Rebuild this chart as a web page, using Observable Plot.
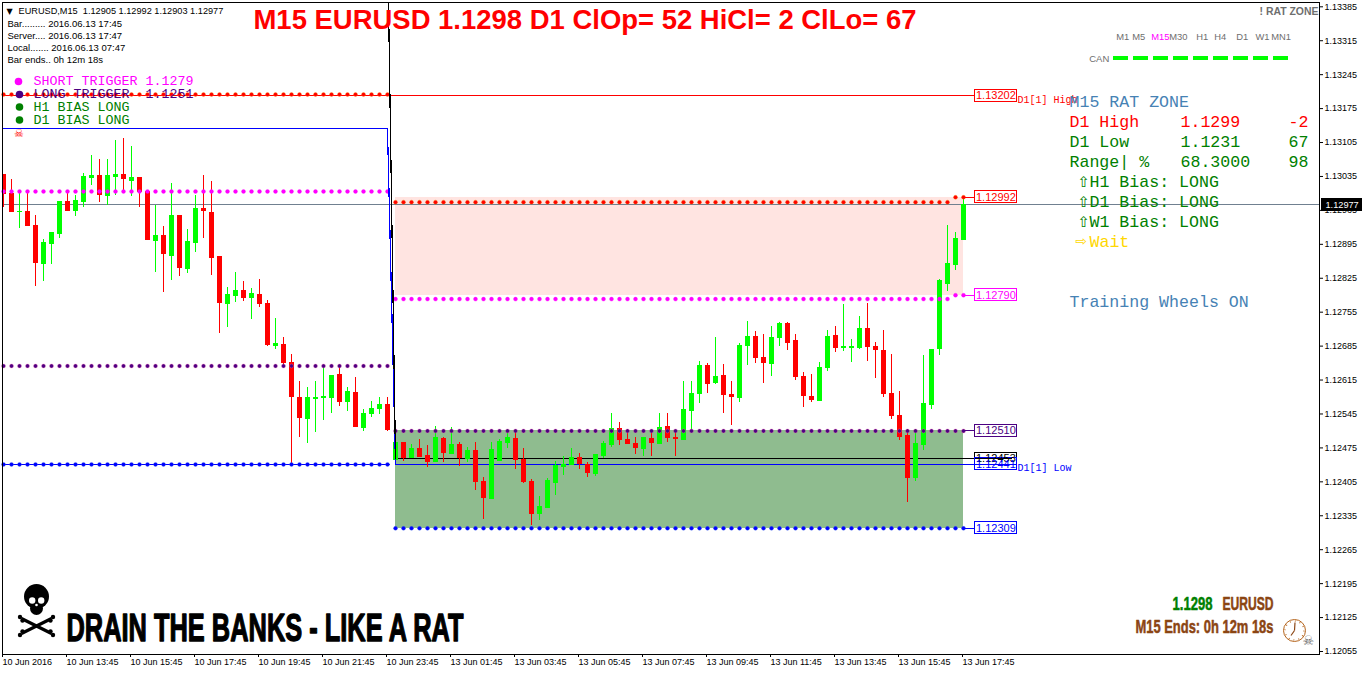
<!DOCTYPE html>
<html><head><meta charset="utf-8">
<style>html,body{margin:0;padding:0;background:#fff;overflow:hidden}svg{display:block}svg text{white-space:pre}</style>
<script src="https://cdn.jsdelivr.net/npm/d3@7"></script>
<script src="https://cdn.jsdelivr.net/npm/@observablehq/plot@0.6"></script>
</head><body><div id="chart"></div>
<script>
const opens=[113040,112999,112962,112962,112933,112856,112896,112918,112984,112964,112984,113032,113036,112995,113034,113040,113026,113032,113003,112902,112914,112871,112955,112846,112898,112968,112960,112869,112772,112790,112799,112786,112792,112772,112687,112689,112652,112580,112535,112576,112578,112578,112627,112570,112590,112518,112545,112557,112564,112452,112487,112456,112473,112460,112446,112495,112464,112483,112454,112469,112405,112370,112448,112487,112495,112452,112405,112339,112353,112403,112436,112440,112456,112440,112423,112460,112483,112516,112493,112485,112473,112495,112485,112520,112497,112493,112553,112588,112646,112609,112625,112586,112578,112687,112704,112662,112650,112702,112731,112696,112623,112582,112572,112640,112706,112683,112683,112683,112722,112685,112675,112588,112541,112500,112413,112483,112564,112681,112815,112854,112905];
const highs=[113040,113028,113001,113001,112955,112904,112920,112984,113001,112995,113042,113079,113069,113069,113110,113114,113096,113032,113003,112976,112931,113021,112955,112925,112995,113038,113024,112869,112805,112836,112819,112803,112823,112780,112741,112702,112667,112611,112599,112613,112640,112625,112642,112599,112621,112555,112570,112578,112578,112487,112487,112483,112493,112479,112520,112497,112518,112487,112475,112487,112413,112487,112493,112512,112508,112473,112409,112374,112411,112446,112458,112473,112464,112444,112462,112489,112545,112528,112512,112497,112497,112508,112545,112545,112508,112613,112611,112654,112650,112702,112648,112611,112691,112735,112716,112708,112726,112733,112733,112708,112630,112627,112652,112718,112726,112770,112698,112747,112772,112693,112718,112667,112592,112512,112512,112665,112679,112823,112933,112920,112992];
const lows=[112970,112960,112927,112931,112807,112819,112854,112908,112962,112953,112970,113017,112982,112976,112995,113007,112993,112970,112902,112836,112795,112821,112828,112834,112879,112908,112830,112712,112724,112776,112778,112739,112764,112685,112677,112644,112442,112497,112485,112506,112531,112547,112561,112551,112518,112508,112537,112543,112508,112452,112446,112454,112456,112434,112444,112444,112462,112436,112444,112388,112328,112368,112446,112473,112431,112401,112314,112326,112351,112376,112419,112438,112431,112413,112417,112454,112475,112479,112481,112462,112458,112458,112481,112487,112458,112493,112512,112566,112588,112605,112545,112522,112568,112646,112650,112607,112623,112685,112675,112615,112559,112568,112572,112632,112671,112673,112652,112677,112654,112619,112580,112533,112491,112363,112405,112469,112555,112665,112797,112840,112903];
const closes=[112997,112960,112962,112931,112856,112898,112920,112984,112962,112986,113034,113038,112995,113036,113040,113028,113032,113001,112902,112914,112873,112955,112846,112900,112968,112962,112865,112772,112792,112799,112784,112794,112770,112687,112691,112650,112578,112535,112580,112580,112582,112625,112568,112592,112518,112547,112557,112564,112510,112487,112454,112473,112456,112444,112497,112464,112483,112454,112469,112403,112370,112471,112489,112497,112450,112403,112337,112355,112407,112438,112440,112456,112440,112423,112462,112485,112516,112491,112483,112473,112497,112485,112518,112495,112493,112555,112588,112646,112605,112623,112584,112578,112687,112704,112660,112650,112702,112731,112691,112621,112582,112572,112640,112704,112681,112684,112684,112722,112683,112675,112586,112539,112497,112411,112485,112566,112679,112821,112856,112906,112977];

const barTimes=["10 Jun 2016","10 Jun 13:45","10 Jun 15:45","10 Jun 17:45","10 Jun 19:45","10 Jun 21:45","10 Jun 23:45","13 Jun 01:45","13 Jun 03:45","13 Jun 05:45","13 Jun 07:45","13 Jun 09:45","13 Jun 11:45","13 Jun 13:45","13 Jun 15:45","13 Jun 17:45"];
const priceTicks=[1.13385,1.13315,1.13245,1.13175,1.13105,1.13035,1.12965,1.12895,1.12825,1.12755,1.12685,1.12615,1.12545,1.12475,1.12405,1.12335,1.12265,1.12195,1.12125,1.12055];

const prevDayHigh=1.13202, lastClose=1.12977;
const prevLevels={short:1.13004,long:1.12644,low:1.12441,upper:1.13133,black:1.13529};
const zoneTop=1.12992, zoneBottom=1.12790, zoneRefTop=1.12982, zoneRefBottom=1.12782;
const greenTop=1.12510, greenBottom=1.12309, midBlack=1.12453, midBlue=1.12441;
const boxLabels=[{p:1.13202,c:"#ff0000"},{p:1.12992,c:"#ff0000"},{p:1.12790,c:"#ff00ff"},{p:1.12510,c:"#4b0082"},{p:1.12453,c:"#000000"},{p:1.12441,c:"#0000ff"},{p:1.12309,c:"#0000ff"}];
const timeframes=["M1","M5","M15","M30","H1","H4","D1","W1","MN1"];

const W=1362,H=675,ml=2,mr=43,mt=2,mb=21;
const pxBar=px=>(px-3)/8;
const pyPrice=py=>(113398-2.063*py)/1e5;

const candles=opens.map((o,i)=>({i,o:o/1e5,h:highs[i]/1e5,l:lows[i]/1e5,c:closes[i]/1e5,col:closes[i]>=o?"#00ff00":"#ff0000"}));
const leftBars=d3.range(0,49), rightBars=d3.range(49,121);

const crisp={shapeRendering:"crispEdges"};
const dots=(bars,p,fill,halo)=>Plot.dot(bars,{x:d=>d,y:typeof p==="function"?p:()=>p,r:2,fill,stroke:halo,strokeWidth:.9,strokeOpacity:.35});
const hline=(a,b,p,stroke,w=1)=>Plot.ruleY([p],{x1:a,x2:b,stroke,strokeWidth:w,...crisp});

const fits=new Map();
const sans="Liberation Sans", mono="Liberation Mono";
const txt=(s,x,y,o={})=>{
  const {w,...rest}=o; if(w) fits.set(s,w);
  return Plot.text([s],{text:d=>d,frameAnchor:"top-left",dx:x-ml,dy:y-mt,textAnchor:"start",lineAnchor:"middle",fontFamily:sans,fontSize:9,fill:"#000",...rest});
};
const heavy=(s,x,y,size,fill,w)=>txt(s,x,y,{fontFamily:sans,fontWeight:"bold",fontSize:size,fill,stroke:fill,strokeWidth:size>30?1.3:.5,w});
const m=(s,x,y,fill,size=16.6,o={})=>txt(s,x,y-.8,{fontFamily:mono,fontSize:size,fill,...o});
const pxDot=(x,y,r,fill,o={})=>Plot.dot([0],{frameAnchor:"top-left",dx:x-ml,dy:y-mt,r,fill,...o});
const pxLink=(x1,y1,x2,y2,stroke,strokeWidth)=>Plot.link([0],{x1:()=>pxBar(x1),y1:()=>pyPrice(y1),x2:()=>pxBar(x2),y2:()=>pyPrice(y2),stroke,strokeWidth});

const steel="#4682b4", green="#008000", gold="#ffd700", brown="#8b4513", grayT="#6e6e6e";
const tfX=[1115.7,1131.7,1150.7,1168.7,1195.7,1213.7,1235.7,1255,1270.7];

const svg=Plot.plot({
  width:W,height:H,marginLeft:ml,marginRight:mr,marginTop:mt,marginBottom:mb,
  style:{background:"#fff",overflow:"visible"},
  x:{domain:[pxBar(ml),pxBar(W-mr)],axis:null},
  y:{domain:[pyPrice(H-mb),pyPrice(mt)],axis:null},
  marks:[
    Plot.rect([0],{x1:()=>49,x2:()=>120,y1:()=>zoneBottom,y2:()=>zoneTop,fill:"#ffe4e1",...crisp}),
    Plot.rect([0],{x1:()=>49,x2:()=>120,y1:()=>greenBottom,y2:()=>greenTop,fill:"#8fbc8f",...crisp}),
    Plot.ruleY([lastClose],{stroke:"#708090",strokeWidth:1,...crisp}),
    hline(pxBar(ml),120,prevDayHigh,"#ff0000"),
    hline(pxBar(ml),48,prevLevels.upper,"#0000ff"),
    hline(pxBar(ml),48.4,prevLevels.low,"#0000ff"),
    hline(49,pxBar(1008),midBlack,"#000"),
    hline(49,120,midBlue,"#0000ff"),
    Plot.ruleX(candles,{x:"i",y1:"l",y2:"h",stroke:"col",strokeWidth:1,clip:true,...crisp}),
    Plot.ruleX(candles,{x:"i",y1:"o",y2:"c",stroke:"col",strokeWidth:5,clip:true,...crisp}),
    Plot.ruleY(candles,{y:"o",x1:d=>d.i-.3125,x2:d=>d.i+.3125,stroke:"col",clip:true,...crisp}),
    dots(leftBars,1.13204,"#ff0000","#ff8c00"),
    dots(leftBars,prevLevels.short,"#ff00ff","#ff00ff"),
    dots(leftBars,prevLevels.long,"#4b0082","#ff69b4"),
    dots(leftBars,prevLevels.low,"#0000ff","#4169e1"),
    dots(rightBars,d=>d>=119?zoneTop:zoneRefTop,"#ff0000","#ff8c00"),
    dots(rightBars,d=>d>=119?zoneBottom:zoneRefBottom,"#ff00ff","#ff00ff"),
    dots(rightBars,greenTop,"#4b0082","#ff69b4"),
    dots(rightBars,greenBottom,"#0000ff","#4169e1"),
    Plot.line([[48,prevLevels.upper],[49,midBlue]],{stroke:"#0000ff",strokeWidth:1.2,clip:true,...crisp}),
    Plot.line([[48,prevLevels.black],[49,midBlack]],{stroke:"#000",strokeWidth:1.2,clip:true,...crisp}),
    Plot.ruleY(boxLabels,{y:"p",x1:120,x2:pxBar(974),stroke:"c",...crisp}),
    Plot.rect(boxLabels,{x1:pxBar(974),x2:pxBar(1016),y1:"p",y2:"p",insetTop:-6,insetBottom:-6,fillOpacity:0,stroke:"c",strokeWidth:1,...crisp}),
    Plot.text(boxLabels,{x:pxBar(975.5),y:"p",text:d=>d.p.toFixed(5),fill:"c",textAnchor:"start",fontFamily:sans,fontSize:11}),
    hline(pxBar(977),pxBar(1012),midBlack,"#000"),
    hline(120,pxBar(1016),midBlue,"#0000ff"),
    Plot.frame({stroke:"#000",strokeWidth:1}),
    Plot.axisY({anchor:"right",ticks:priceTicks,tickFormat:d=>d.toFixed(5),tickSize:3,tickPadding:2,label:null,fontFamily:sans,fontSize:9,fill:"#000",stroke:"#000"}),
    Plot.axisX({anchor:"bottom",ticks:barTimes.map((_,k)=>k*8),tickFormat:d=>barTimes[d/8],tickSize:3,tickPadding:1,label:null,textAnchor:"start",dx:-1,fontFamily:sans,fontSize:9,fill:"#000",stroke:"#000"}),
    Plot.rect([lastClose],{x1:pxBar(1321),x2:pxBar(1362),y1:d=>d,y2:d=>d,insetTop:-6.5,insetBottom:-6.5,fill:"#000",...crisp}),
    Plot.text([lastClose],{x:pxBar(1325),y:d=>d,text:d=>d.toFixed(5),fill:"#fff",textAnchor:"start",fontFamily:sans,fontSize:9.2}),

    txt("M15 EURUSD 1.1298 D1 ClOp= 52 HiCl= 2 ClLo= 67",253,19.5,{fontWeight:"bold",fontSize:27,fill:"#ff0000",w:663}),
    txt("▼",6,10.5,{fontFamily:"DejaVu Sans",fontSize:8}),
    txt("EURUSD,M15  1.12905 1.12992 1.12903 1.12977",18,10.5,{fontSize:9.2}),
    txt("Bar......... 2016.06.13 17:45",7,23.5,{fontSize:9.5}),
    txt("Server.... 2016.06.13 17:47",7,35.5,{fontSize:9.5}),
    txt("Local....... 2016.06.13 07:47",7,47.5,{fontSize:9.5}),
    txt("Bar ends.. 0h 12m 18s",7,59.5,{fontSize:9.5}),

    ...[[18,81,"#ff00ff"],[19,94,"#4b0082"],[19,106.5,green],[19,119.5,green]].map(([x,y,f])=>pxDot(x,y,3.8,f)),
    m("SHORT TRIGGER 1.1279",33,81,"#ff00ff",13.33),
    m("LONG TRIGGER  1.1251",33,94,"#4b0082",13.33),
    m("H1 BIAS LONG",33,107,green,13.33),
    m("D1 BIAS LONG",33,120,green,13.33),
    txt("☠",13.5,132.5,{fontFamily:"DejaVu Sans",fontSize:11,fill:"#ff0000"}),

    ...timeframes.map((t,k)=>txt(t,tfX[k],36.5,{fill:t==="M15"?"#ff00ff":grayT,fontSize:9.4})),
    txt("! RAT ZONE",1259,11,{fontWeight:"bold",fontSize:10.5,fill:grayT,w:59}),
    txt("CAN",1088.7,58.5,{fontSize:9.5,fill:grayT}),
    Plot.ruleY([pyPrice(57.5)],{x1:pxBar(1113),x2:pxBar(1288),stroke:"#00ff00",strokeWidth:4,strokeDasharray:"15 5",...crisp}),

    txt("D1[1] High",1017,99.5,{fontFamily:mono,fontSize:10,fill:"#ff0000"}),
    txt("D1[1] Low",1017,467.5,{fontFamily:mono,fontSize:10,fill:"#0000ff"}),
    m("M15 RAT ZONE",1069,102,steel),
    m("D1 High",1069,122,"#ff0000"), m("1.1299",1180,122,"#ff0000"), m("-2",1308,122,"#ff0000",16.6,{textAnchor:"end"}),
    m("D1 Low",1069,142,green), m("1.1231",1180,142,green), m("67",1308,142,green,16.6,{textAnchor:"end"}),
    m("Range| %",1069,162,green), m("68.3000",1180,162,green), m("98",1308,162,green,16.6,{textAnchor:"end"}),
    txt("⇧",1077,182,{fontFamily:"DejaVu Sans",fontSize:15,fill:green}), m("H1 Bias: LONG",1089,182,green),
    txt("⇧",1077,202,{fontFamily:"DejaVu Sans",fontSize:15,fill:green}), m("D1 Bias: LONG",1089,202,green),
    txt("⇧",1077,222,{fontFamily:"DejaVu Sans",fontSize:15,fill:green}), m("W1 Bias: LONG",1089,222,green),
    txt("⇨",1075,241,{fontFamily:"DejaVu Sans",fontSize:14,fill:gold}), m("Wait",1089,242,gold),
    m("Training Wheels ON",1069,302,steel),

    // Skull and crossbones
    pxDot(36,596,12.5,"#000"),
    pxDot(36,608,6.5,"#000"),
    pxDot(31.7,600,3.2,"#fff"),
    pxDot(40.7,600,3.2,"#fff"),
    pxDot(36,604.5,1.3,"#fff"),
    pxLink(21,618,51,633,"#000",3.2),
    pxLink(21,633,51,618,"#000",3.2),
    ...[[19.5,616.5],[22,620],[19.5,634.5],[22,631],[52.5,616.5],[50,620],[52.5,634.5],[50,631]].map(([x,y])=>pxDot(x,y,2.2,"#000")),
    heavy("DRAIN THE BANKS - LIKE A RAT",66,628,38,"#000",397),
    heavy("1.1298",1172,603.5,17.5,green,40),
    heavy("EURUSD",1222,603.5,17.5,brown,51),
    heavy("M15 Ends: 0h 12m 18s",1135,627,17.5,brown,138),
    pxDot(1294,630,11,"#fff",{stroke:"#b5651d",strokeWidth:1}),
    pxDot(1294,630,9.5,"none",{stroke:"#b5651d",strokeWidth:1.2,strokeDasharray:"1 3.97"}),
    pxLink(1294,630,1294.5,622,brown,1.2),
    pxLink(1294,630,1290.5,635,brown,1.2),
    txt("☠",1302,640,{fontFamily:"DejaVu Sans",fontSize:13,fill:"#666"})
  ]
});
d3.select(svg).selectAll("text").each(function(){
  const w=fits.get(this.textContent);
  if(w){this.setAttribute("textLength",w);this.setAttribute("lengthAdjust","spacingAndGlyphs");}
});
document.getElementById("chart").appendChild(svg);
</script>
</body></html>
